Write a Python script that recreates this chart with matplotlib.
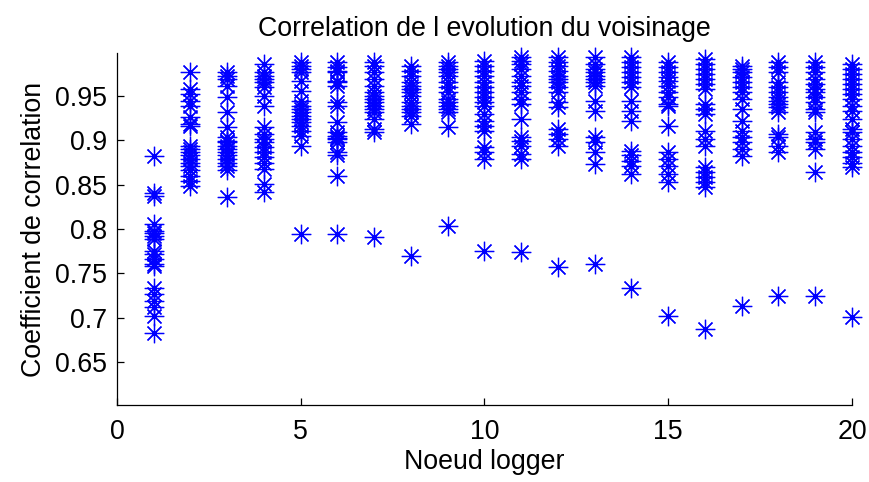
import numpy as np
from matplotlib import pyplot as plt
from matplotlib.ticker import FormatStrFormatter

# correlation values read per logger node
corr_n1 = [0.882, 0.841, 0.8375, 0.8055, 0.798, 0.795, 0.792, 0.789, 0.775, 0.772,
           0.766, 0.760, 0.758, 0.734, 0.7265, 0.719, 0.7115, 0.702, 0.683]
corr_n2 = [0.9767, 0.9579, 0.9523, 0.9447, 0.939, 0.926, 0.918, 0.9165, 0.894, 0.890,
           0.8865, 0.883, 0.879, 0.875, 0.871, 0.866, 0.860, 0.8545, 0.849]
corr_n3 = [0.9767, 0.9729, 0.969, 0.9616, 0.9485, 0.9316, 0.9147, 0.9034, 0.8996, 0.8978,
           0.894, 0.890, 0.8865, 0.883, 0.879, 0.875, 0.871, 0.866, 0.8357]
corr_n4 = [0.986, 0.9767, 0.9729, 0.969, 0.9654, 0.9598, 0.9504, 0.939, 0.9147, 0.9071,
           0.9015, 0.8978, 0.892, 0.8865, 0.881, 0.875, 0.8675, 0.8507, 0.8413]
corr_n5 = [0.988, 0.9842, 0.9805, 0.9767, 0.9673, 0.956, 0.9447, 0.939, 0.9353, 0.9316,
           0.9278, 0.924, 0.9203, 0.9165, 0.911, 0.905, 0.894, 0.7943]
corr_n6 = [0.988, 0.9824, 0.9786, 0.9767, 0.9673, 0.9654, 0.9616, 0.9428, 0.939, 0.9203,
           0.909, 0.905, 0.903, 0.9015, 0.8978, 0.8865, 0.883, 0.860, 0.7943]
corr_n7 = [0.988, 0.9842, 0.9767, 0.969, 0.9616, 0.954, 0.9504, 0.9466, 0.9428, 0.939,
           0.9353, 0.9316, 0.924, 0.9128, 0.909, 0.7905]
corr_n8 = [0.9842, 0.9786, 0.9729, 0.9654, 0.9616, 0.9579, 0.954, 0.9504, 0.9428, 0.939,
           0.9353, 0.9316, 0.9278, 0.9184, 0.770]
corr_n9 = [0.988, 0.9842, 0.9805, 0.9767, 0.9729, 0.9654, 0.9598, 0.954, 0.9466, 0.9428,
           0.939, 0.9353, 0.9316, 0.9147, 0.8036]
corr_n10 = [0.9899, 0.9842, 0.9786, 0.9729, 0.9654, 0.9598, 0.954, 0.9485, 0.9428, 0.939,
            0.9297, 0.9222, 0.9165, 0.911, 0.892, 0.8865, 0.879, 0.7754]
corr_n11 = [0.9937, 0.9899, 0.986, 0.9805, 0.9729, 0.9654, 0.9616, 0.954, 0.9466, 0.941,
            0.924, 0.9034, 0.8996, 0.894, 0.8845, 0.879, 0.7735]
corr_n12 = [0.9937, 0.988, 0.9842, 0.9786, 0.9729, 0.969, 0.9654, 0.9598, 0.954, 0.9428,
            0.9372, 0.9128, 0.9071, 0.9015, 0.894, 0.7566]
corr_n13 = [0.9937, 0.986, 0.9805, 0.9767, 0.9729, 0.969, 0.9654, 0.9616, 0.9447, 0.9334,
            0.9034, 0.8978, 0.8865, 0.8733, 0.7604]
corr_n14 = [0.9937, 0.988, 0.9824, 0.9767, 0.971, 0.9654, 0.9598, 0.9447, 0.9334, 0.9222,
            0.8884, 0.883, 0.877, 0.871, 0.862, 0.734]
corr_n15 = [0.988, 0.9824, 0.9767, 0.971, 0.9673, 0.9616, 0.954, 0.9485, 0.941, 0.939,
            0.9165, 0.8865, 0.879, 0.8714, 0.862, 0.8526, 0.702]
corr_n16 = [0.9918, 0.986, 0.9805, 0.9748, 0.969, 0.9635, 0.9579, 0.941, 0.9353, 0.9297,
            0.911, 0.9015, 0.894, 0.8695, 0.864, 0.8582, 0.8526, 0.847, 0.687]
corr_n17 = [0.9842, 0.9805, 0.9767, 0.971, 0.9654, 0.9598, 0.954, 0.9466, 0.9353, 0.9222,
            0.911, 0.9034, 0.8978, 0.890, 0.8827, 0.7134]
corr_n18 = [0.988, 0.9824, 0.9767, 0.9654, 0.9598, 0.954, 0.9485, 0.9447, 0.941, 0.9372,
            0.9316, 0.9071, 0.9034, 0.894, 0.8865, 0.7247]
corr_n19 = [0.988, 0.9824, 0.9767, 0.969, 0.9635, 0.9579, 0.954, 0.9485, 0.9428, 0.9353,
            0.9316, 0.909, 0.9015, 0.8978, 0.890, 0.8639, 0.7247]
corr_n20 = [0.986, 0.9805, 0.9748, 0.969, 0.9635, 0.9579, 0.9523, 0.9466, 0.939, 0.9334,
            0.924, 0.9128, 0.909, 0.9015, 0.894, 0.8865, 0.8808, 0.875, 0.8695, 0.7002]

columns = [corr_n1, corr_n2, corr_n3, corr_n4, corr_n5, corr_n6, corr_n7, corr_n8,
           corr_n9, corr_n10, corr_n11, corr_n12, corr_n13, corr_n14, corr_n15,
           corr_n16, corr_n17, corr_n18, corr_n19, corr_n20]
nodes = list(range(1, 21))

plt.rcParams['font.family'] = ['Liberation Sans', 'DejaVu Sans']
fs = 19.3

fig = plt.figure(figsize=(8.69, 4.82), dpi=100)
ax = fig.add_axes([0.1346, 0.1598, 0.8458, 0.7302])

for n, vals in zip(nodes, columns):
    ax.plot(np.full(len(vals), n), vals, linestyle='none', marker=(8, 2, 0),
            markersize=14, markeredgewidth=0.9, color=(0, 0, 1), clip_on=False)

ax.set_xlim(0, 20)
ax.set_ylim(0.6015, 0.9985)
ax.set_xticks([0, 5, 10, 15, 20])
ax.set_yticks([0.65, 0.7, 0.75, 0.8, 0.85, 0.9, 0.95])
ax.yaxis.set_major_formatter(FormatStrFormatter('%g'))
ax.spines['top'].set_visible(False)
ax.spines['right'].set_visible(False)
for s in ['left', 'bottom']:
    ax.spines[s].set_linewidth(0.9)
ax.tick_params(direction='in', length=5, width=0.9, labelsize=fs)
ax.tick_params(axis='x', pad=10)
ax.tick_params(axis='y', pad=7)

ax.set_title('Correlation de l evolution du voisinage', fontsize=fs, pad=12)
ax.set_xlabel('Noeud logger', fontsize=fs, labelpad=3)
ax.set_ylabel('Coefficient de correlation', fontsize=fs, labelpad=6)

plt.savefig('out.png', dpi=100)
